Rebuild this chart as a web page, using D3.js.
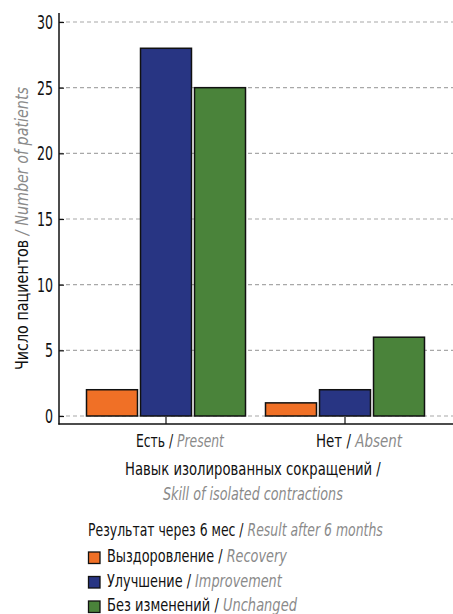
<!DOCTYPE html>
<html><head><meta charset="utf-8">
<script src="https://cdn.jsdelivr.net/npm/d3@7"></script>
<style>
body{margin:0;background:#fff;}
text{font-family:"DejaVu Sans Condensed","DejaVu Sans",sans-serif;}
.en{fill:#8a8a8a;font-style:italic;}
</style></head>
<body><svg id="c" width="453" height="614"></svg>
<script>
const groupsRu = ["Есть", "Нет"];
const groupsEn = ["Present", "Absent"];
const seriesRu = ["Выздоровление", "Улучшение", "Без изменений"];
const seriesEn = ["Recovery", "Improvement", "Unchanged"];
const colors = ["#f07026", "#283583", "#4a833a"];
const recovery = [2, 1];
const improvement = [28, 2];
const unchanged = [25, 6];
const yTicks = [0, 5, 10, 15, 20, 25, 30];

const values = [recovery, improvement, unchanged];
const svg = d3.select("#c");
const fs = 18.5;

// text helper: draws a (possibly two-part) label, condensed horizontally to a given width
function fitLabel(parent, parts, o) {
  const g = parent.append("g").attr("transform", `translate(${o.x},${o.y}) rotate(${o.rotate || 0})`);
  const inner = g.append("g");
  const t = inner.append("text").attr("font-size", o.size || fs).attr("fill", "#111");
  parts.forEach(p => t.append("tspan").attr("class", p.en ? "en" : null).text(p.t));
  const w = t.node().getComputedTextLength();
  const s = o.width / w;
  const dx = o.anchor === "middle" ? -o.width / 2 : (o.anchor === "end" ? -o.width : 0);
  inner.attr("transform", `translate(${dx},0) scale(${s},1)`);
  return g;
}

const y = d3.scaleLinear().domain([0, 30]).range([416, 22]);
const x0 = d3.scaleBand().domain(groupsRu).range([76.5, 434.5]).padding(0);
const x1 = d3.scaleBand().domain(seriesRu).range([0, 159]).paddingInner(0.056).paddingOuter(0);
const innerOff = (x0.bandwidth() - 159) / 2;

// gridlines
svg.append("g").selectAll("line").data(yTicks).join("line")
  .attr("x1", 59).attr("x2", 453)
  .attr("y1", d => y(d)).attr("y2", d => y(d))
  .attr("stroke", "#a8a8a8").attr("stroke-width", 1.2).attr("stroke-dasharray", "4,3");

// bars
const gg = svg.append("g").selectAll("g").data(groupsRu).join("g")
  .attr("transform", d => `translate(${x0(d) + innerOff},0)`);
gg.selectAll("rect").data((g, gi) => seriesRu.map((s, si) => ({s, si, v: values[si][gi]})))
  .join("rect")
  .attr("x", d => x1(d.s)).attr("width", x1.bandwidth())
  .attr("y", d => y(d.v)).attr("height", d => y(0) - y(d.v))
  .attr("fill", d => colors[d.si]).attr("stroke", "#111").attr("stroke-width", 1.5);

// y axis
const ya = svg.append("g").attr("transform", "translate(59,0)")
  .call(d3.axisRight(y).tickValues(yTicks).tickSize(5).tickFormat(""));
ya.select(".domain").remove();
ya.selectAll("line").attr("stroke", "#111").attr("stroke-width", 1.2);
svg.append("g").selectAll("g").data(yTicks).join("g")
  .attr("transform", d => `translate(53,${y(d)})`)
  .append("text").attr("dy", "0.36em").attr("text-anchor", "end")
  .attr("transform", "scale(0.72,1)")
  .attr("font-size", 19.5).attr("fill", "#111").text(d => d);
svg.append("line").attr("x1", 59).attr("x2", 59).attr("y1", 13).attr("y2", 424.5)
  .attr("stroke", "#111").attr("stroke-width", 1.5);

// x axis
svg.append("line").attr("x1", 58.3).attr("x2", 453).attr("y1", 424).attr("y2", 424)
  .attr("stroke", "#111").attr("stroke-width", 1.5);
svg.append("g").selectAll("line").data(groupsRu).join("line")
  .attr("x1", d => x0(d) + x0.bandwidth() / 2).attr("x2", d => x0(d) + x0.bandwidth() / 2)
  .attr("y1", 417).attr("y2", 424).attr("stroke", "#111").attr("stroke-width", 1.2);
const xlW = [88, 86];
groupsRu.forEach((d, i) => {
  fitLabel(svg, [{t: d + " / "}, {t: groupsEn[i], en: true}],
    {x: x0(d) + x0.bandwidth() / 2 + 14, y: 447, anchor: "middle", width: xlW[i]});
});

// x title
fitLabel(svg, [{t: "Навык изолированных сокращений /"}], {x: 253, y: 475, anchor: "middle", width: 256});
fitLabel(svg, [{t: "Skill of isolated contractions", en: true}], {x: 253, y: 500, anchor: "middle", width: 180});

// y title
fitLabel(svg, [{t: "Число пациентов  "}, {t: "/ Number of patients", en: true}],
  {x: 28, y: 228.5, rotate: -90, anchor: "middle", width: 283});

// legend
fitLabel(svg, [{t: "Результат через 6 мес / "}, {t: "Result after 6 months", en: true}],
  {x: 88, y: 535.5, width: 295});
const legW = [180, 175, 190];
const lg = svg.append("g").selectAll("g").data(seriesRu).join("g")
  .attr("transform", (d, i) => `translate(88,${557.5 + i * 24.5})`);
lg.append("rect").attr("x", 0.5).attr("y", -5.5).attr("width", 11.5).attr("height", 11.5)
  .attr("fill", (d, i) => colors[i]).attr("stroke", "#111").attr("stroke-width", 1.3);
lg.each(function(d, i) {
  fitLabel(d3.select(this), [{t: d + " / "}, {t: seriesEn[i], en: true}],
    {x: 19, y: 4.5, width: legW[i]});
});
</script></body></html>
